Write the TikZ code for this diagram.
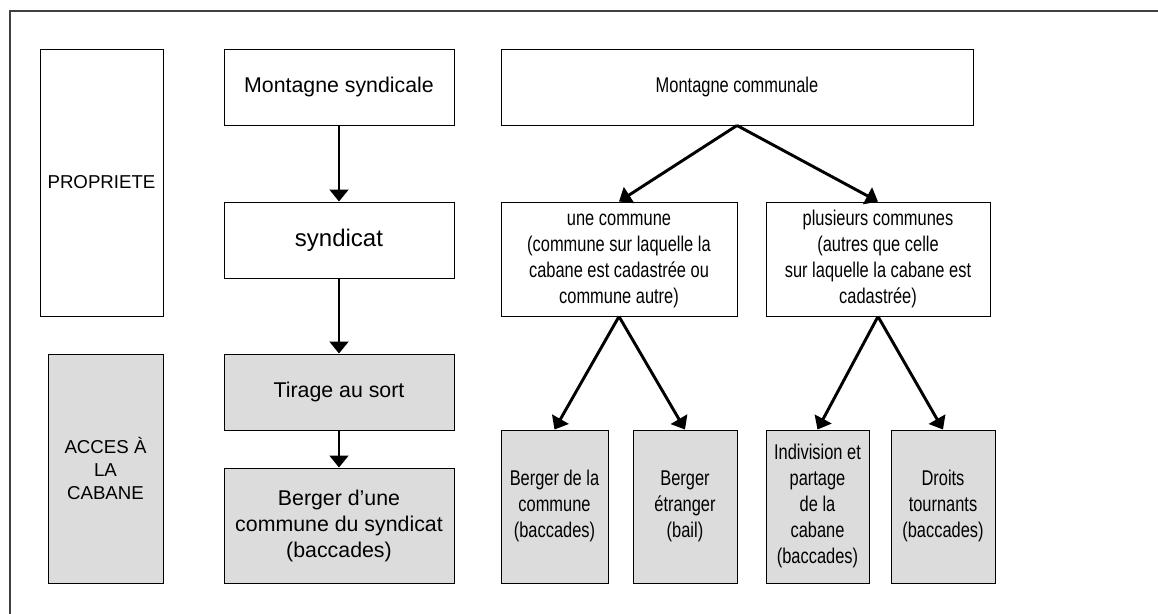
\documentclass[tikz,border=0pt]{standalone}
\usepackage{fontspec}
\usepackage{xcolor}
\usepackage{graphicx}
\usepackage{tikz}
\usetikzlibrary{arrows.meta}
\setmainfont{Liberation Sans}
\definecolor{cabanegray}{RGB}{220,220,220}
\newcommand{\etroit}[1]{\scalebox{0.77}[1]{\begin{tabular}{@{}c@{}}#1\end{tabular}}}

\begin{document}
\begin{tikzpicture}[x=0.75pt,y=-0.75pt,
    boite/.style={draw=black,line width=0.7pt,inner sep=0pt,align=center,
      font=\fontsize{16}{19.5}\selectfont},
    grise/.style={boite,fill=cabanegray},
    fleche/.style={line width=2.2pt,-{Triangle[width=14pt,length=9pt]}}]
  \useasboundingbox (0,0) rectangle (1158,614);
  \draw[black!75,line width=0.8pt] (10,11) rectangle (1170,630); %cadre

  % colonne de gauche
  \node[boite,minimum width=92.25pt,minimum height=200.25pt,
    font=\fontsize{14}{17}\selectfont] (prop) at (101.5,182.5) {PROPRIETE};
  \node[grise,minimum width=86.25pt,minimum height=171.75pt,
    font=\fontsize{14}{17}\selectfont] (acces) at (105.5,468.5) {ACCES À\\LA\\CABANE};

  % montagne syndicale
  \node[boite,minimum width=172.5pt,minimum height=57pt] (msynd) at (339,87) {Montagne syndicale};
  \node[boite,minimum width=172.5pt,minimum height=57pt,
    font=\fontsize{18}{20}\selectfont] (synd) at (339,240) {syndicat};
  \node[grise,minimum width=172.5pt,minimum height=57pt] (tirage) at (339,392) {Tirage au sort};
  \node[grise,minimum width=172.5pt,minimum height=86.25pt] (bsynd) at (339,525.5)
    {Berger d’une\\commune du syndicat\\(baccades)};

  % montagne communale
  \node[boite,minimum width=354pt,minimum height=57pt] (mcomm) at (737,87)
    {\etroit{Montagne communale}};
  \node[boite,minimum width=177pt,minimum height=85.5pt] (une) at (619,259)
    {\etroit{une commune\\(commune sur laquelle la\\cabane est cadastrée ou\\commune autre)}};
  \node[boite,minimum width=168pt,minimum height=85.5pt] (plus) at (878,259)
    {\etroit{plusieurs communes\\(autres que celle\\sur laquelle la cabane est\\cadastrée)}};
  \node[grise,minimum width=80.25pt,minimum height=114.75pt] (bcomm) at (554.5,506.5)
    {\etroit{Berger de la\\commune\\(baccades)}};
  \node[grise,minimum width=78pt,minimum height=114.75pt] (betr) at (685,506.5)
    {\etroit{Berger\\étranger\\(bail)}};
  \node[grise,minimum width=77.25pt,minimum height=114.75pt] (indiv) at (817.5,506.5)
    {\etroit{Indivision et\\partage\\de la\\cabane\\(baccades)}};
  \node[grise,minimum width=78pt,minimum height=114.75pt] (droits) at (943,506.5)
    {\etroit{Droits\\tournants\\(baccades)}};

  % fleches
  \draw[fleche] (msynd.south) -- (synd.north);
  \draw[fleche] (synd.south) -- (tirage.north);
  \draw[fleche] (tirage.south) -- (bsynd.north);
  \draw[fleche] (mcomm.south) -- (une.north);
  \draw[fleche] (mcomm.south) -- (plus.north);
  \draw[fleche] (une.south) -- (bcomm.north);
  \draw[fleche] (une.south) -- (betr.north);
  \draw[fleche] (plus.south) -- (indiv.north);
  \draw[fleche] (plus.south) -- (droits.north);
\end{tikzpicture}
\end{document}
